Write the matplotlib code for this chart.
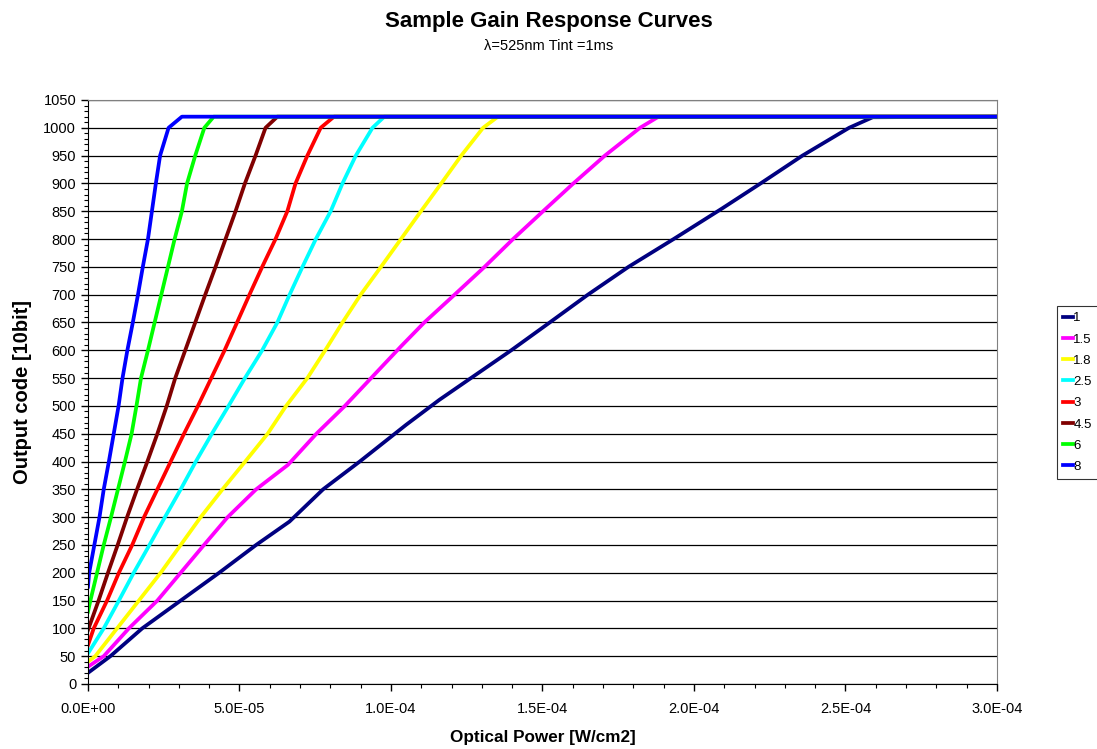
import numpy as np
import matplotlib.pyplot as plt
from matplotlib.ticker import MultipleLocator, FuncFormatter

plt.rcParams['font.family'] = ['Liberation Sans', 'DejaVu Sans']

# gain response curves, x in units of 1e-5 W/cm2, y = output code
labels = ['1', '1.5', '1.8', '2.5', '3', '4.5', '6', '8']
colors = ['#000080', '#ff00ff', '#ffff00', '#00ffff', '#ff0000', '#800000', '#00ff00', '#0000ff']

x_1 = [0, 0.74, 1.79, 3.06, 4.33, 5.55, 6.65, 7.76, 8.97, 10.5, 11.6, 13.97, 15.24, 16.5,
       17.84, 19.33, 20.93, 22.2, 23.58, 25.12, 25.9, 30]
y_1 = [20, 50, 100, 150, 200, 250, 292, 350, 400, 466, 511, 600, 650, 700,
       750, 800, 855, 900, 950, 1000, 1019, 1020]

x_15 = [0, 0.52, 1.35, 2.29, 3.06, 3.83, 4.61, 5.55, 6.6, 7.54, 8.48, 10.33, 11.1, 12.1,
        13.09, 14.03, 15.02, 16.02, 17.06, 18.22, 18.83, 30]
y_15 = [31, 50, 100, 150, 200, 250, 300, 350, 394, 450, 500, 607, 650, 700,
        750, 800, 850, 900, 950, 1000, 1020, 1020]

x_18 = [0, 0.24, 0.96, 1.68, 2.40, 3.06, 3.72, 4.44, 5.19, 5.93, 6.54, 7.24, 7.83, 8.4,
        9.0, 9.67, 10.33, 10.99, 11.66, 12.32, 13.04, 13.53, 30]
y_18 = [40, 50, 100, 150, 200, 250, 300, 350, 400, 450, 500, 550, 600, 650,
        700, 750, 800, 850, 900, 950, 1000, 1020, 1020]

x_25 = [0, 0.52, 1.02, 1.51, 2.03, 2.54, 3.06, 3.56, 4.09, 4.64, 5.18, 5.75, 6.25, 6.63,
        7.08, 7.52, 8.01, 8.4, 8.84, 9.39, 9.78, 30]
y_25 = [55, 100, 150, 200, 250, 300, 350, 400, 450, 500, 550, 600, 650, 697,
        750, 800, 850, 900, 950, 1000, 1020, 1020]

x_3 = [0, 0.19, 0.63, 1.02, 1.46, 1.85, 2.29, 2.73, 3.17, 3.63, 4.07, 4.51, 4.92, 5.33,
       5.75, 6.19, 6.58, 6.85, 7.24, 7.68, 8.12, 30]
y_3 = [70, 100, 150, 200, 250, 300, 350, 400, 450, 500, 550, 600, 650, 700,
       750, 800, 850, 900, 950, 1000, 1020, 1020]

x_45 = [0, 0.35, 0.66, 0.98, 1.29, 1.62, 1.96, 2.29, 2.6, 2.88, 3.21, 3.54, 3.87, 4.21,
        4.54, 4.87, 5.18, 5.53, 5.86, 6.25, 30]
y_45 = [97, 150, 200, 250, 300, 350, 400, 450, 500, 550, 600, 650, 700, 750,
        800, 850, 900, 950, 1000, 1020, 1020]

x_6 = [0, 0.08, 0.30, 0.52, 0.76, 0.99, 1.22, 1.44, 1.6, 1.75, 1.98, 2.2, 2.42, 2.64,
       2.86, 3.1, 3.27, 3.54, 3.84, 4.15, 30]
y_6 = [130, 150, 200, 250, 300, 350, 400, 450, 500, 550, 600, 650, 700, 750,
       800, 850, 900, 950, 1000, 1020, 1020]

x_8 = [0, 0.04, 0.21, 0.38, 0.52, 0.69, 0.85, 1.01, 1.14, 1.3, 1.48, 1.65, 1.81, 1.98,
       2.11, 2.24, 2.38, 2.66, 3.1, 30]
y_8 = [175, 200, 250, 300, 350, 400, 450, 500, 550, 600, 650, 700, 750, 800,
       850, 900, 950, 1000, 1020, 1020]

xs = [x_1, x_15, x_18, x_25, x_3, x_45, x_6, x_8]
ys = [y_1, y_15, y_18, y_25, y_3, y_45, y_6, y_8]

fig = plt.figure(figsize=(10.97, 7.49), dpi=100)
ax = fig.add_axes([0.0802, 0.0868, 0.8286, 0.7797])

for xv, yv, c, lab in zip(xs, ys, colors, labels):
    ax.plot(np.array(xv) * 1e-5, yv, color=c, lw=2.7, label=lab, solid_joinstyle='round')

ax.set_xlim(0, 3e-4)
ax.set_ylim(0, 1050)
ax.yaxis.set_major_locator(MultipleLocator(50))
ax.yaxis.set_minor_locator(MultipleLocator(10))
ax.xaxis.set_major_locator(MultipleLocator(5e-5))
ax.xaxis.set_minor_locator(MultipleLocator(1e-5))
ax.xaxis.set_major_formatter(FuncFormatter(lambda v, p: '%.1E' % v))
ax.grid(axis='y', which='major', color='black', lw=0.9)
ax.set_axisbelow(True)

ax.tick_params(which='major', direction='out', length=5, width=1, labelsize=10.5)
ax.tick_params(which='minor', direction='out', length=3, width=0.8)
ax.tick_params(axis='x', pad=8)
for s in ['top', 'right']:
    ax.spines[s].set_color('#808080')
for s in ['left', 'bottom']:
    ax.spines[s].set_color('black')

# format
ax.set_xlabel('Optical Power [W/cm2]', fontsize=12.3, fontweight='bold', labelpad=10)
ax.set_ylabel('Output code [10bit]', fontsize=14.5, fontweight='bold', labelpad=8)
fig.text(0.5, 0.971, 'Sample Gain Response Curves', ha='center', va='center',
         fontsize=16, fontweight='bold')
fig.text(0.5, 0.939, '\u03bb=525nm Tint =1ms', ha='center', va='center', fontsize=10.5)

leg = ax.legend(loc='center left', bbox_to_anchor=(1.066, 0.499), frameon=True, fontsize=9.5,
                handlelength=0.75, handletextpad=0.05, borderpad=0.45, labelspacing=0.68,
                borderaxespad=0, fancybox=False)
leg.get_frame().set_edgecolor('black')
leg.get_frame().set_linewidth(0.8)

plt.savefig('out.png', dpi=100)
